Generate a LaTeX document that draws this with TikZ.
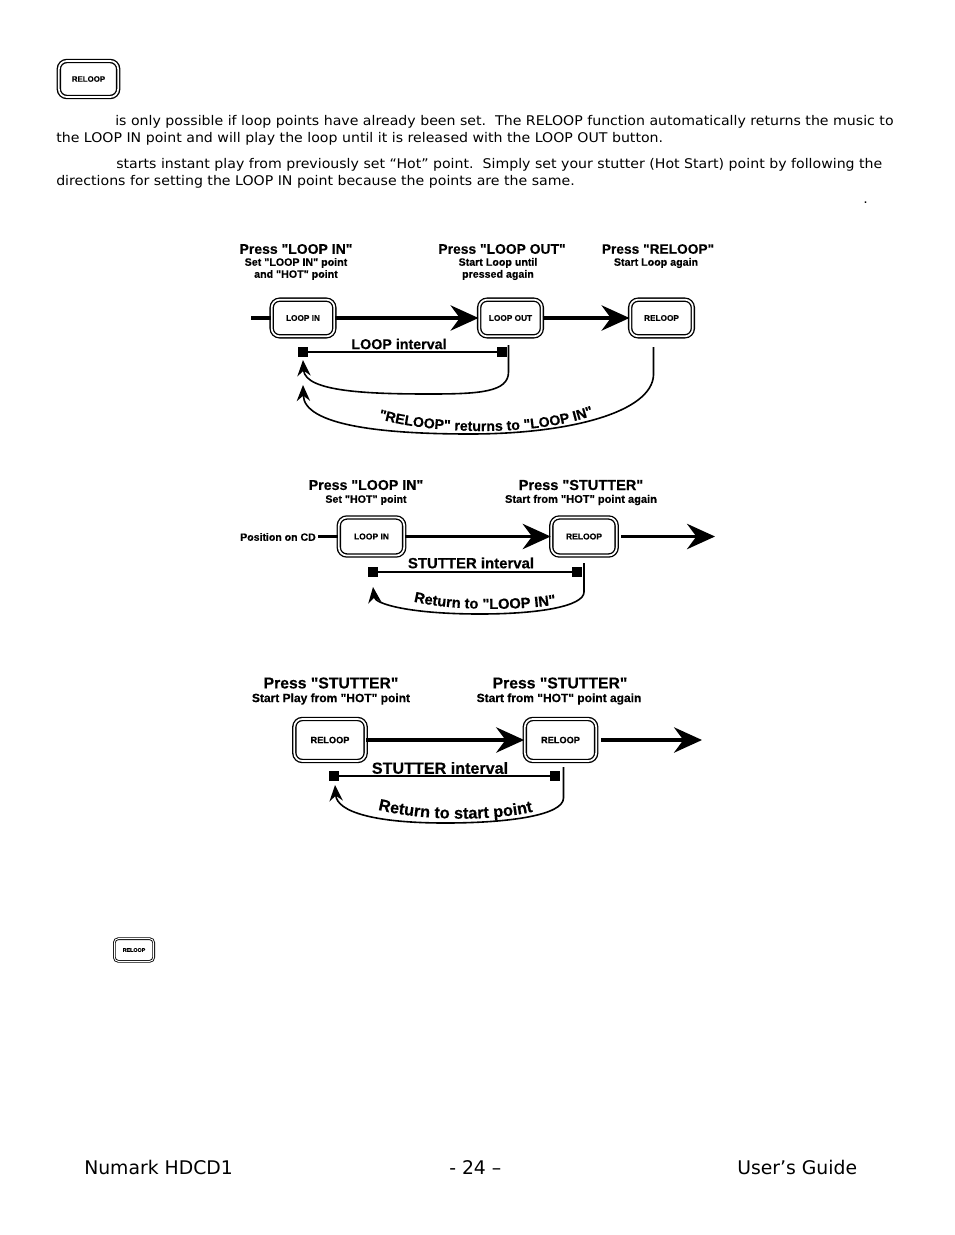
\documentclass[tikz,border=0pt]{standalone}
\usepackage{fontspec}
\setmainfont{DejaVu Sans}[FakeStretch=1.06]
\newfontfamily\footfont{DejaVu Sans}
\newfontfamily\dgm{Liberation Sans}[BoldFeatures={FakeBold=0.35}]
\usetikzlibrary{arrows.meta,decorations.text,positioning}
\newcommand{\dgsize}[1]{\dgm\bfseries\fontsize{#1}{9}\selectfont}
\tikzset{
  btnbase/.style={draw,double,double distance=1.3pt,line width=1pt,rounded corners=6pt,inner sep=0pt,font=\dgsize{6.2}},
  btnA/.style={btnbase,minimum width=47pt,minimum height=27.5pt},
  btnB/.style={btnbase,minimum width=49pt,minimum height=28.5pt,font=\dgsize{6.4}},
  btnC/.style={btnbase,minimum width=53.5pt,minimum height=31.5pt,font=\dgsize{6.9}},
  btnIcon/.style={btnbase,minimum width=44.5pt,minimum height=27pt,font=\dgsize{5.9}},
  btnSmall/.style={draw,double,double distance=.7pt,line width=.65pt,rounded corners=3pt,inner sep=0pt,minimum width=29.5pt,minimum height=17pt,font=\dgsize{4}},
  flow/.style={line width=2.5pt,-{Stealth[length=21pt,width=19pt,inset=7pt]}},
  leadline/.style={line width=2.4pt},
  ret/.style={line width=1.2pt,-{Stealth[length=12pt,width=10pt,inset=4pt]}},
  spanline/.style={line width=1.2pt},
  pointmark/.style={fill=black,inner sep=0pt,minimum size=7.5pt},
  headtext/.style={inner sep=0pt},
  subtext/.style={inner sep=0pt,align=center},
  intv/.style={inner sep=0pt},
  bodytext/.style={anchor=base west,inner sep=0pt,font=\fontsize{10}{12}\selectfont},
  foottext/.style={anchor=base west,inner sep=0pt,font=\footfont\fontsize{14.1}{16}\selectfont},
}
\begin{document}
\begin{tikzpicture}[x=0.75pt,y=-0.75pt]
\useasboundingbox (0,0) rectangle (954,1235);
% page text
\node[btnIcon] (icon1) at (88.5,79) {RELOOP};
\node[bodytext] (t1) at (115,125) {is only possible if loop points have already been set.\ \ The RELOOP function automatically returns the music to};
\node[bodytext] (t2) at (56,142) {the LOOP IN point and will play the loop until it is released with the LOOP OUT button.};
\node[bodytext] (t3) at (116,168) {starts instant play from previously set “Hot” point.\ \ Simply set your stutter (Hot Start) point by following the};
\node[bodytext] (t4) at (56,185) {directions for setting the LOOP IN point because the points are the same.};
\node[bodytext] (t5) at (863,203) {.};
\node[btnSmall] (icon2) at (134,950) {RELOOP};
\node[foottext] (f1) at (84,1174) {Numark HDCD1};
\node[foottext] (f2) at (449,1174) {- 24 –};
\node[foottext] (f3) at (737,1174) {User’s Guide};

% diagram 1
\node[headtext,font=\dgsize{10.5}] (h11) at (296,249) {Press "LOOP IN"};
\node[subtext,font=\dgsize{8}]  (s11) at (296,269) {Set "LOOP IN" point\\and "HOT" point};
\node[headtext,font=\dgsize{10.4}] (h12) at (502,249) {Press "LOOP OUT"};
\node[subtext,font=\dgsize{8}]  (s12) at (498,269) {Start Loop until\\pressed again};
\node[headtext,font=\dgsize{10.3}] (h13) at (658,249) {Press "RELOOP"};
\node[subtext,font=\dgsize{8}]  (s13) at (656,263) {Start Loop again};
\node[btnA] (a1) at (303,318) {LOOP IN};
\node[btnA] (a2) at (510.5,318) {LOOP OUT};
\node[btnA] (a3) at (661.5,318) {RELOOP};
\coordinate (a0) at (251,318);
\draw[leadline] (a0) -- (a1.west);
\draw[flow] (a1.east) -- (a2.west);
\draw[flow] (a2.east) -- (a3.west);
\node[pointmark] (am1) at (303,352) {};
\node[pointmark] (am2) at (502,352) {};
\draw[spanline] (am1) -- (am2);
\node[intv,font=\dgsize{10.7}] (ai) at (399,344) {LOOP interval};
\coordinate (ar1) at (508.5,345);
\coordinate (ar1t) at (303,360);
\coordinate (ar2) at (653.5,347);
\coordinate (ar2t) at (303,385);
\draw[ret] (ar1) -- (508.5,372) .. controls (508.5,392) and (480,394) .. (430,394) .. controls (370,394) and (305,392) .. (ar1t);
\draw[ret] (ar2) -- (653.5,375) .. controls (652,412) and (570,434) .. (470,434) .. controls (380,434) and (304,425) .. (ar2t);
\path[decorate,decoration={text along path,text align=center,text={|\dgsize{10.6}|"RELOOP" returns to "LOOP IN"}}]
  (376,418) .. controls (430,435) and (540,437) .. (596,414);

% diagram 2
\node[headtext,font=\dgsize{10.65}] (h21) at (366,485) {Press "LOOP IN"};
\node[subtext,font=\dgsize{8}]  (s21) at (366,500) {Set "HOT" point};
\node[headtext,font=\dgsize{10.9}] (h22) at (581,485) {Press "STUTTER"};
\node[subtext,font=\dgsize{8.3}]  (s22) at (581,500) {Start from "HOT" point again};
\node[subtext,font=\dgsize{7.9},anchor=east] (p2) at (316,537) {Position on CD};
\node[btnB] (b1) at (371.5,536.5) {LOOP IN};
\node[btnB] (b2) at (584,536.5) {RELOOP};
\coordinate (b0) at (318,536.5);
\coordinate (b3) at (715,536.5);
\draw[leadline] (b0) -- (b1.west);
\draw[flow] (b1.east) -- (b2.west);
\draw[flow,shorten <=3pt] (b2.east) -- (b3);
\node[pointmark] (bm1) at (373,572) {};
\node[pointmark] (bm2) at (577,572) {};
\draw[spanline] (bm1) -- (bm2);
\node[intv,font=\dgsize{11.2}] (bi) at (471,563) {STUTTER interval};
\coordinate (br) at (584,563);
\coordinate (brt) at (373,587);
\draw[ret] (br) -- (584,592) .. controls (584,606) and (540,614) .. (480,614) .. controls (410,614) and (375,604) .. (brt);
\path[decorate,decoration={text along path,text align=center,text={|\dgsize{11}|Return to "LOOP IN"}}]
  (411,601) .. controls (450,611) and (520,611) .. (559,604);

% diagram 3
\node[headtext,font=\dgsize{11.8}] (h31) at (331,683) {Press "STUTTER"};
\node[subtext,font=\dgsize{9}]  (s31) at (331,699) {Start Play from "HOT" point};
\node[headtext,font=\dgsize{11.8}] (h32) at (560,683) {Press "STUTTER"};
\node[subtext,font=\dgsize{9}]  (s32) at (559,699) {Start from "HOT" point again};
\node[btnC] (c1) at (330,740) {RELOOP};
\node[btnC] (c2) at (560.5,740) {RELOOP};
\coordinate (c3) at (702,740);
\draw[flow] (c1.east) -- (c2.west);
\draw[flow,shorten <=3pt] (c2.east) -- (c3);
\node[pointmark] (cm1) at (334,776) {};
\node[pointmark] (cm2) at (555,776) {};
\draw[spanline] (cm1) -- (cm2);
\node[intv,font=\dgsize{12.1}] (ci) at (440,768) {STUTTER interval};
\coordinate (cr) at (563.5,767);
\coordinate (crt) at (335,785);
\draw[ret] (cr) -- (563.5,798) .. controls (563.5,815) and (510,823) .. (445,823) .. controls (375,823) and (337,812) .. (crt);
\path[decorate,decoration={text along path,text align=center,text={|\dgsize{12.2}|Return to start point}}]
  (375,809) .. controls (420,821) and (490,822) .. (536,811);
\end{tikzpicture}
\end{document}
